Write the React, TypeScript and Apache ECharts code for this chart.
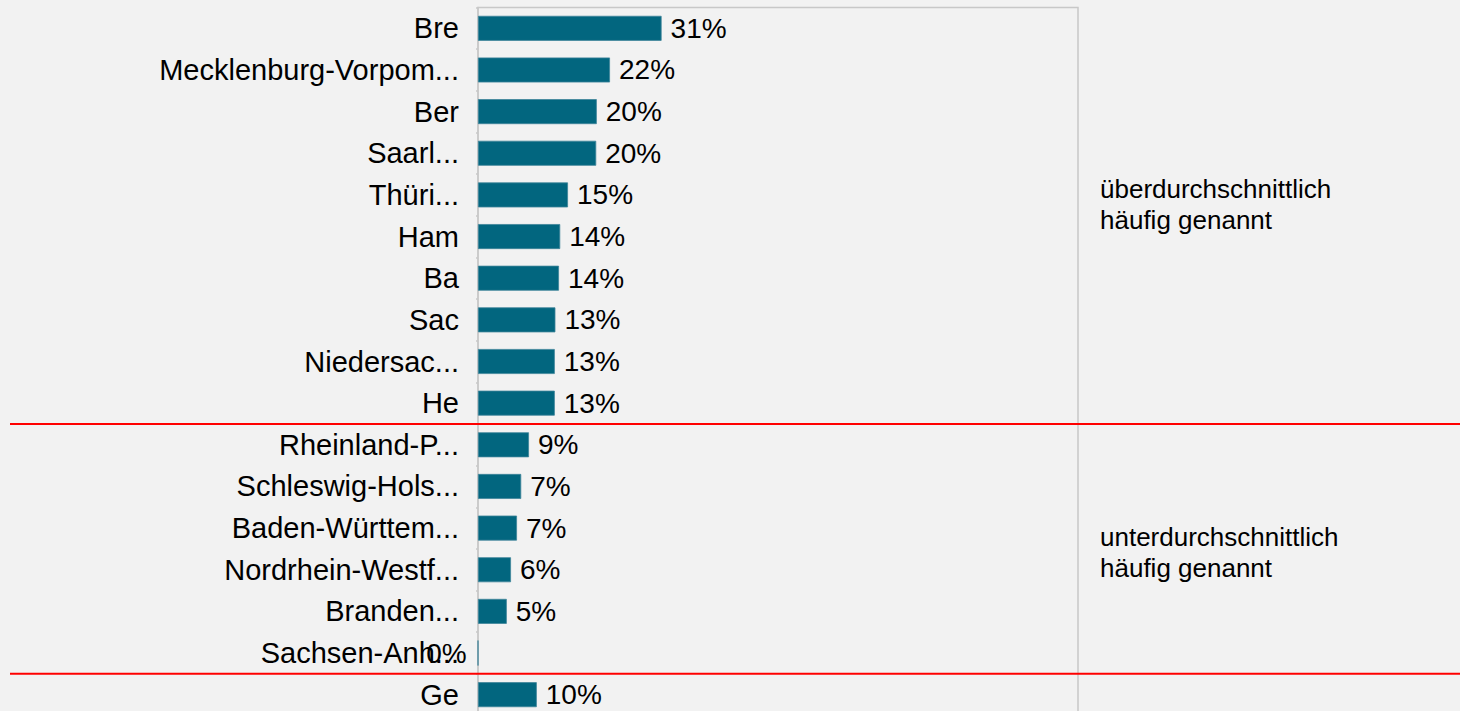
import React, { useEffect, useRef } from "react";
import * as echarts from "echarts";

const categories = [
  "Bre",
  "Mecklenburg-Vorpom...",
  "Ber",
  "Saarl...",
  "Thüri...",
  "Ham",
  "Ba",
  "Sac",
  "Niedersac...",
  "He",
  "Rheinland-P...",
  "Schleswig-Hols...",
  "Baden-Württem...",
  "Nordrhein-Westf...",
  "Branden...",
  "Sachsen-Anh...",
  "Ge",
];
const values = [30.6, 22.0, 19.8, 19.7, 15.0, 13.7, 13.5, 12.9, 12.8, 12.8, 8.5, 7.2, 6.5, 5.5, 4.8, 0, 9.8];
// separators drawn after these category indices
const separatorsAfter = [9, 15];
// group annotations: first index, last index, text
const groupFirst = [0, 10];
const groupLast = [9, 15];
const groupTexts = ["überdurchschnittlich\nhäufig genannt", "unterdurchschnittlich\nhäufig genannt"];

const FONT = "'Liberation Sans', Arial, sans-serif";

export default function App() {
  const ref = useRef<HTMLDivElement>(null);
  useEffect(() => {
    if (!ref.current) return;
    const chart = echarts.init(ref.current, null, { renderer: "svg" });
    chart.setOption({
      animation: false,
      backgroundColor: "#f2f2f2",
      grid: {
        left: 478,
        top: 7.5,
        width: 600,
        height: 708,
        show: true,
        borderColor: "#c8c8c8",
        borderWidth: 1.5,
        backgroundColor: "transparent",
      },
      xAxis: {
        type: "value",
        min: 0,
        max: 100,
        show: false,
      },
      yAxis: {
        type: "category",
        inverse: true,
        data: categories,
        axisLine: { show: true, lineStyle: { color: "#c8c8c8", width: 1.5 } },
        axisTick: { show: true, length: 2, lineStyle: { color: "#c8c8c8", width: 1.5 } },
        axisLabel: {
          margin: 19,
          fontSize: 29,
          color: "#000",
          fontFamily: FONT,
        },
      },
      series: [
        {
          type: "bar",
          barCategoryGap: "40%",
          itemStyle: { color: "#02667f", borderColor: "#3e8499", borderWidth: 0.8 },
          data: values.map((v) => ({
            value: v,
            label: v === 0 ? { position: "left", distance: 11 } : undefined,
          })),
          label: {
            show: true,
            position: "right",
            distance: 9,
            fontSize: 28,
            color: "#000",
            fontFamily: FONT,
            formatter: (p: any) => Math.round(p.value) + "%",
          },
        },
      ],
    });

    const centers = categories.map((c) => chart.convertToPixel({ yAxisIndex: 0 }, c) as number);
    const graphics: any[] = [];
    separatorsAfter.forEach((i) => {
      const y = (centers[i] + centers[i + 1]) / 2;
      graphics.push({
        type: "line",
        shape: { x1: 10, y1: y, x2: 1460, y2: y },
        style: { stroke: "#ff0000", lineWidth: 2 },
        z: 10,
      });
    });
    groupTexts.forEach((t, g) => {
      const y = (centers[groupFirst[g]] + centers[groupLast[g]]) / 2;
      graphics.push({
        type: "text",
        x: 1100,
        y: g === 0 ? y - 11 : y + 3.5,
        style: {
          text: t,
          fontSize: 26,
          lineHeight: 31,
          fill: "#000",
          fontFamily: FONT,
          verticalAlign: "middle",
          align: "left",
        },
      });
    });
    chart.setOption({ graphic: graphics });

    return () => chart.dispose();
  }, []);
  return (
    <div style={{ position: "absolute", left: 0, top: 0, width: 1460, height: 711, overflow: "hidden" }}>
      <div ref={ref} style={{ width: 1460, height: 720 }} />
    </div>
  );
}
